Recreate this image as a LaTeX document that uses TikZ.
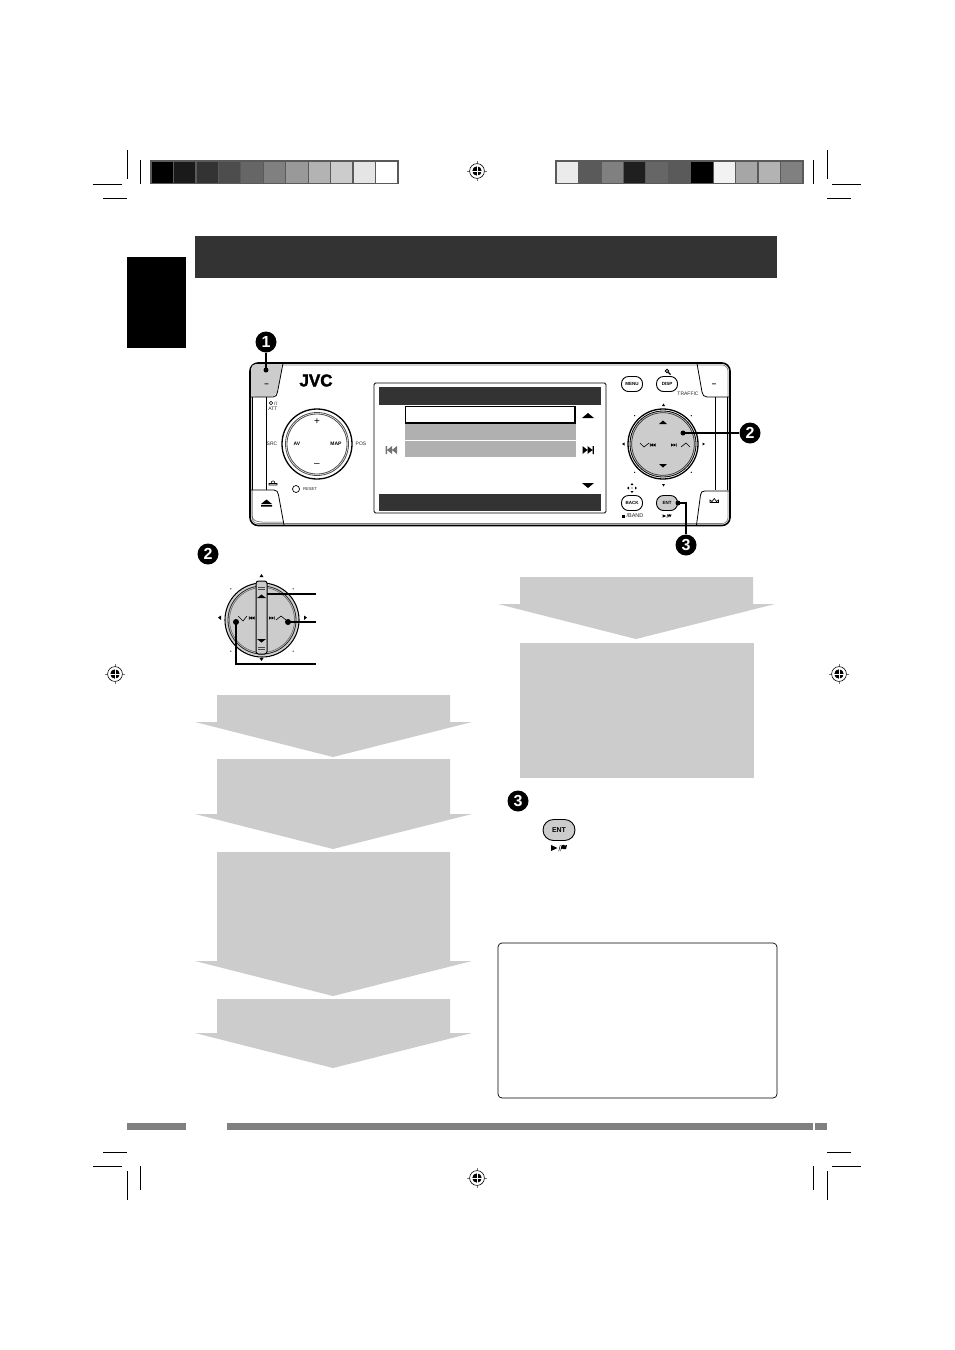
\documentclass[tikz,border=0pt]{standalone}
\usepackage{fontspec}
\setmainfont{Liberation Sans}
\newfontfamily\jvcfont[FakeBold=2]{Liberation Sans Bold}
\usetikzlibrary{shapes.geometric}
\definecolor{panelgray}{HTML}{CCCCCC}
\definecolor{rowgray}{HTML}{B0B0B0}
\definecolor{headdark}{HTML}{333333}
\definecolor{framegray}{HTML}{5A5A5A}
\definecolor{footgray}{HTML}{808080}
\tikzset{
  x=1pt,y=-1pt,
  crop/.style={black,line width=1pt},
  callout/.style={circle,fill=black,text=white,inner sep=0pt,minimum size=21pt,font=\bfseries\fontsize{16}{16}\selectfont},
  tipdot/.style={circle,fill=black,inner sep=0pt,minimum size=5pt},
  leader/.style={black,line width=1.3pt},
  btn/.style={draw=black,line width=.9pt,rounded corners=7pt,minimum width=21pt,minimum height=15pt,inner sep=0pt,fill=white,font=\bfseries\fontsize{4.5}{5}\selectfont},
  tiny/.style={inner sep=0pt,font=\fontsize{5}{6}\selectfont,text=black!85},
  panelarrow/.style={fill=panelgray,draw=none},
  skipnext/.pic={\fill (-5,-4)--(0,0)--(-5,4)--cycle (0,-4)--(5,0)--(0,4)--cycle (5,-4) rectangle (6.3,4);},
  skipprev/.pic={\fill (5,-4)--(0,0)--(5,4)--cycle (0,-4)--(-5,0)--(0,4)--cycle (-5,-4) rectangle (-6.3,4);},
  smallskipn/.pic={\fill (-3,-1.6)--(-.5,0)--(-3,1.6)--cycle (-.5,-1.6)--(2,0)--(-.5,1.6)--cycle (2,-1.6) rectangle (2.7,1.6);},
  smallskipp/.pic={\fill (3,-1.6)--(.5,0)--(3,1.6)--cycle (.5,-1.6)--(-2,0)--(.5,1.6)--cycle (-2,-1.6) rectangle (-2.7,1.6);},
  regmark/.pic={
    \draw[black!55,line width=.5pt] (-10,0)--(10,0) (0,-10)--(0,10);
    \fill[white] (0,0) circle (7.4);
    \draw[black,line width=.6pt] (0,0) circle (7.4);
    \fill[black] (0,0) circle (4.7);
    \draw[white,line width=.7pt] (-5,0)--(5,0) (0,-5)--(0,5);
  },
  playflag/.pic={
    \fill (-8,-3)--(-1.5,0)--(-8,3)--cycle;
    \draw[line width=.5pt] (-.3,3.2)--(1.3,-3.2);
    \fill (2.5,-2.6)--(4.5,-3.2)--(6,-2.4)--(8,-3)--(7,1)--(5,1.2)--(3.5,.6)--(2.2,1.2)--(1.8,3.2)--(1.4,3.2)--cycle;
  }
}
\newcommand{\grayarrow}[3]{%
  \fill[panelarrow] (#2,#1) -- (#2,#3) -- (195+#2-217,#3) -- (333+#2-217,#3+35) -- (472+#2-217,#3) -- (450+#2-217,#3) -- (450+#2-217,#1) -- cycle;}
\begin{document}
\begin{tikzpicture}
\useasboundingbox (0,0) rectangle (954,1350);
\fill[white] (0,0) rectangle (954,1350);

% crop marks
\draw[crop] (127.3,150)--(127.3,179) (140.5,160)--(140.5,184) (93,184)--(122,184) (103,198)--(127,198);
\draw[crop] (813.6,160)--(813.6,184) (827.5,150)--(827.5,179) (832,184)--(861,184) (827,198)--(851,198);
\draw[crop] (103,1152)--(127,1152) (93,1166)--(122,1166) (140.5,1166)--(140.5,1190) (127.3,1171)--(127.3,1200);
\draw[crop] (827,1152)--(851,1152) (832,1166)--(861,1166) (813.6,1166)--(813.6,1190) (827.5,1171)--(827.5,1200);

% colour bars
\fill[framegray] (150,160) rectangle (399,184);
\foreach \c [count=\i from 0] in {000000,1A1A1A,333333,4D4D4D,666666,808080,999999,B3B3B3,CCCCCC,E5E5E5,FFFFFF}{
  \definecolor{cc}{HTML}{\c}
  \fill[cc] ({151.7+\i*22.44},161.7) rectangle ({151.7+\i*22.44+21.2},182.6);}
\fill[framegray] (555,160) rectangle (804,184);
\foreach \c [count=\i from 0] in {EBEBEB,5A5A5A,808080,1F1F1F,666666,5A5A5A,000000,F2F2F2,A6A6A6,B3B3B3,808080}{
  \definecolor{cc}{HTML}{\c}
  \fill[cc] ({556.7+\i*22.44},161.7) rectangle ({556.7+\i*22.44+21.2},182.6);}

% registration marks
\pic at (477,171) {regmark};
\pic at (115,674) {regmark};
\pic at (839,674) {regmark};
\pic at (477,1178) {regmark};

% header and tab
\fill[headdark] (195,236) rectangle (777,278);
\fill[black] (127,257) rectangle (186,348);

% footer
\fill[footgray] (127,1123) rectangle (186,1130);
\fill[footgray] (227,1123) rectangle (813,1130);
\fill[footgray] (814.5,1123) rectangle (827,1130);

% device body
\draw[black,line width=1.6pt,rounded corners=8pt] (250,363) rectangle (730,525.5);
\draw[black!50,line width=.7pt,rounded corners=6pt] (252,365) rectangle (728,523.5);
% left buttons
\fill[panelgray,rounded corners=5pt] (251,397) -- (251,364) -- (283,364) -- (277,392) -- (275,397) -- cycle;
\draw[black,line width=.8pt] (283,363.5) -- (277.5,392) .. controls (277,395) and (276,397) .. (273,397) -- (251,397);
\draw[black,line width=.8pt] (266,397)--(266,490) (252,397)--(252,490);
\draw[black,line width=.8pt] (251,490)--(274,490) .. controls (277,490) and (278,492) .. (278.5,495) -- (284,525);
\draw[black!70,line width=.5pt] (252,490) -- (252,515) .. controls (252,520) and (256,522) .. (262,522) -- (283,522);
\node[inner sep=0pt,font=\bfseries\fontsize{8}{8}\selectfont] (minusl) at (266.5,385) {–};
\fill (261,504)--(266.5,499.5)--(272,504)--cycle (261,505) rectangle (272,506.5);
% power and labels
\node[tiny] (attl) at (273,409) {ATT};
\node[tiny] (pwr) at (275.5,403.5) {\fontsize{5}{5}\selectfont /I};
\draw[black,line width=.5pt] (271,403) circle (1.8);
\node[tiny] (srcl) at (272,444) {SRC};
\node[tiny] (posl) at (361,444) {POS};
\draw[black,line width=.6pt] (269,483.5) rectangle (277,485) (271,483.5) .. controls (271,480) and (275,480) .. (275,483.5);
\node[inner sep=0pt,font=\jvcfont\fontsize{17}{17}\selectfont] (jvc) at (316,380.5) {JVC};

% left knob
\draw[black,line width=1.3pt] (317,444) circle (35);
\draw[black!70,line width=.8pt] (317,444) circle (31.5);
\draw[black!70,line width=.8pt] (317,444) circle (30);
\node[inner sep=0pt,font=\fontsize{10}{10}\selectfont] (plus) at (317,422) {+};
\node[inner sep=0pt,font=\fontsize{10}{10}\selectfont] (minus) at (317,465) {–};
\node[inner sep=0pt,font=\bfseries\fontsize{5}{6}\selectfont] (av) at (297,444) {AV};
\node[inner sep=0pt,font=\bfseries\fontsize{5}{6}\selectfont] (map) at (336,444) {MAP};
\draw[black,line width=.7pt] (296,489) circle (3.5);
\node[tiny,font=\fontsize{4.2}{5}\selectfont] (reset) at (310,489) {RESET};

% screen
\draw[black,line width=.9pt,rounded corners=1.5pt] (374,383) rectangle (606,513);
\fill[headdark] (379,387) rectangle (601,405);
\fill[headdark] (379,494) rectangle (601,511);
\fill[rowgray] (405,424) rectangle (576,440);
\fill[rowgray] (405,441) rectangle (576,457);
\draw[black,line width=1.7pt] (405.5,406.5) rectangle (575,423);
\fill (582,418)--(588,413)--(594,418)--cycle;
\fill (582,483)--(594,483)--(588,488)--cycle;
\pic[black] at (587.5,450) {skipnext};
\pic[black!55] at (392,450) {skipprev};

% right buttons
\node[btn] (menu) at (632,384) {MENU};
\node[btn] (disp) at (667,384) {DISP};
\node[btn] (back) at (632,503) {BACK};
\node[btn,fill=panelgray] (ent) at (667,503) {ENT};
\draw[black,line width=.9pt] (667,371) circle (1.8);
\draw[black,line width=1.1pt] (668.3,372.3)--(670.5,374.5);
\node[tiny] (traffic) at (688,394) {TRAFFIC};
\node[tiny] (band) at (635,516) {\fontsize{5.5}{6}\selectfont /BAND};
\fill (622,514.5) rectangle (625,517.5);
\pic[black,scale=.55] at (667,516) {playflag};
\fill (632,483)--(630.5,485)--(633.5,485)--cycle (632,493)--(630.5,491)--(633.5,491)--cycle
      (627,488)--(629,486.5)--(629,489.5)--cycle (637,488)--(635,486.5)--(635,489.5)--cycle;
\fill (632,488) circle (.6);

% right soft keys
\draw[black,line width=.8pt] (697,363.5) -- (702,392) .. controls (702.5,395) and (704,397) .. (707,397) -- (729,397);
\draw[black,line width=.8pt] (715,397)--(715,490) (727.5,397)--(727.5,490);
\draw[black,line width=.8pt] (729,491)--(705,491) .. controls (702,491) and (701,492) .. (700.5,495) -- (696.5,525);
\node[inner sep=0pt,font=\bfseries\fontsize{8}{8}\selectfont] (minusr) at (714,385) {–};
\draw[black,line width=.7pt] (710,502.5)--(710,500)--(712,501.5)--(714.3,498.5)--(716.5,501.5)--(718.5,500)--(718.5,502.5)--cycle;

% right knob
\fill[panelgray] (663,444) circle (33);
\draw[black,line width=1.3pt] (663,444) circle (35);
\draw[black,line width=.8pt] (663,444) circle (33);
\draw[black!80,line width=.7pt] (663,444) circle (31.3);
\fill (659,424)--(663,420.5)--(667,424)--cycle;
\fill (659,464)--(667,464)--(663,467.5)--cycle;
\fill (663.5,403.5)--(665,406)--(662,406)--cycle (662,484)--(665,484)--(663.5,486.5)--cycle
      (622,444)--(624.5,442.5)--(624.5,445.5)--cycle (705,444)--(702.5,442.5)--(702.5,445.5)--cycle;
\foreach \a in {45,135,225,315}{\fill ({663+40*cos(\a)},{444+40*sin(\a)}) circle (.7);}
\draw[black,line width=.6pt] (640,443)--(644,447)--(649,443);
\pic[black] at (652.5,445) {smallskipp};
\pic[black] at (674,445) {smallskipn};
\draw[black,line width=.6pt] (681,447)--(686,443)--(690,447);

% callouts on device
\node[callout] (c1) at (266,342) {1};
\node[tipdot] (d1) at (266,370) {};
\draw[leader] (c1) -- (d1.center);
\node[callout] (c2) at (750,433) {2};
\node[tipdot] (d2) at (683,433) {};
\draw[leader] (c2) -- (d2.center);
\node[callout] (c3) at (686,545) {3};
\node[tipdot] (d3) at (678,503) {};
\draw[leader] (c3.north) |- (d3.center);

% step 2 knob
\node[callout] (s2) at (208,554) {2};
\fill[panelgray] (262,620) circle (36);
\draw[black,line width=1.1pt] (262,620) circle (37);
\draw[black!85,line width=.8pt] (262,620) circle (34);
\draw[black!65,line width=.5pt] (262,620) circle (32.5);
\fill[panelgray,draw=black,line width=1pt,rounded corners=2.5pt] (256,581) rectangle (267,654);
\draw[black!70,line width=.8pt] (258,587)--(265,587) (258,589)--(265,589) (258,647)--(265,647) (258,649)--(265,649);
\fill (257,598)--(261.5,594.5)--(266,598)--cycle;
\fill (257,639)--(266,639)--(261.5,642.5)--cycle;
\fill (261.5,574)--(263.5,577)--(259.5,577)--cycle (259.5,658)--(263.5,658)--(261.5,661)--cycle
      (218,617.5)--(221,615.5)--(221,620)--cycle (304,615.5)--(307,617.5)--(304,620)--cycle;
\foreach \a in {45,135,225,315}{\fill ({262+44*cos(\a)},{620+44*sin(\a)}) circle (.7);}
\draw[black,line width=.6pt] (238,616)--(243,621)--(247,616);
\pic[black] at (251.5,618) {smallskipp};
\pic[black] at (272,618) {smallskipn};
\draw[black,line width=.6pt] (276,620)--(281,616)--(286,620);
\coordinate (barr) at (267,594);
\coordinate (e1) at (316,594);
\coordinate (e2) at (316,622);
\coordinate (e3) at (316,664);
\node[tipdot,minimum size=6pt] (dn2) at (288,622) {};
\node[tipdot,minimum size=6pt] (dn3) at (236,622) {};
\draw[leader] (barr) -- (e1);
\draw[leader] (dn2.center) -- (e2);
\draw[leader] (dn3.center) |- (e3);

% gray flow arrows
\grayarrow{695}{217}{722}
\grayarrow{759}{217}{814}
\grayarrow{852}{217}{961}
\grayarrow{999}{217}{1033}
\grayarrow{577}{520}{604}
\fill[panelgray] (520,643) rectangle (754,778);

% step 3
\node[callout] (s3) at (518,801) {3};
\node[btn,fill=panelgray,minimum width=32pt,minimum height=21pt,rounded corners=10.5pt,font=\bfseries\fontsize{7}{8}\selectfont] (entb) at (559,830) {ENT};
\pic[black] at (559,848) {playflag};

% note box
\draw[black,line width=.7pt,rounded corners=4pt] (498,943) rectangle (777,1098);
\end{tikzpicture}
\end{document}
